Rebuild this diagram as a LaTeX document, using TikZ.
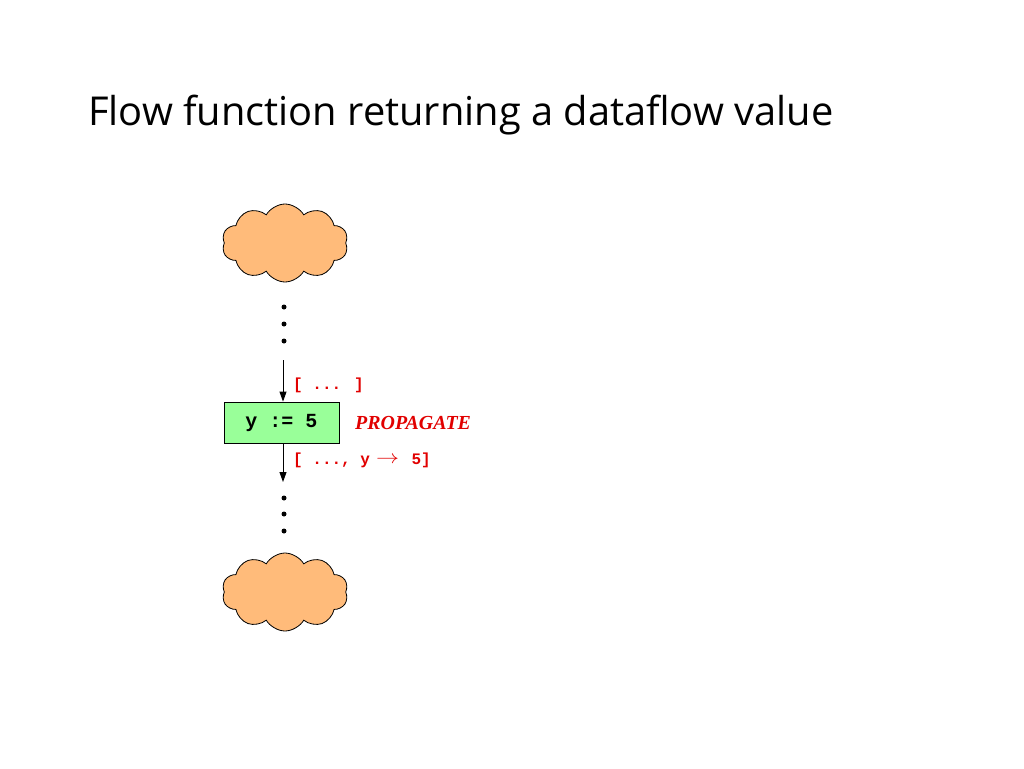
\documentclass[tikz,border=0pt]{standalone}
\usepackage{fontspec}
\usepackage{graphicx}
\setmainfont{Liberation Serif}
\newfontfamily\titlefont{Open Sans}
\newfontfamily\codefont{Liberation Mono}
\usetikzlibrary{shapes.symbols,arrows.meta}
\definecolor{cloudfill}{RGB}{255,187,122}
\definecolor{boxfill}{RGB}{153,255,153}
\definecolor{lblred}{RGB}{225,0,0}
\begin{document}
\begin{tikzpicture}[x=1pt,y=-1pt,
  cloudnode/.style={cloud, cloud puffs=10, cloud puff arc=120, aspect=1.7, draw=black, line width=0.8pt, fill=cloudfill, minimum width=126pt, minimum height=78pt, inner sep=0pt},
  dotnode/.style={circle, fill=black, inner sep=0pt, minimum size=5pt},
  stmtbox/.style={draw=black, line width=0.8pt, fill=boxfill, minimum width=115pt, minimum height=41pt, inner sep=0pt, font=\codefont\bfseries\fontsize{20}{22}\selectfont},
  flowarrow/.style={-{Triangle[length=10pt,width=7pt]}, line width=0.9pt},
  codelbl/.style={text=lblred, font=\codefont\bfseries\fontsize{16}{18}\selectfont, anchor=west, inner sep=0pt}
]
\useasboundingbox (0,0) rectangle (1024,768);
\node[anchor=base west, inner sep=0pt, font=\titlefont\fontsize{39.8}{46}\selectfont] (title) at (88,125) {Flow function returning a dataflow value};
\node[cloudnode] (cloudtop) at (285,243) {};
\node[dotnode] (d1) at (284,307) {};
\node[dotnode] (d2) at (284,324) {};
\node[dotnode] (d3) at (284,341) {};
\coordinate (astart) at (283,360);
\node[stmtbox] (stmt) at (281.5,422.5) {y := 5};
\coordinate (aend) at (283,482);
\draw[flowarrow] (astart) -- (stmt.north -| astart);
\draw[flowarrow] (stmt.south -| aend) -- (aend);
\node[codelbl] (inlbl) at (293,385) {[ ... ]};
\node[codelbl] (outlbl) at (293,460) {[ ..., y\hspace{6pt}\raisebox{1pt}{\resizebox{23pt}{7pt}{$\rightarrow$}}\hspace{3pt} 5]};
\node[anchor=west, inner sep=0pt, text=lblred, font=\bfseries\itshape\fontsize{19.9}{22}\selectfont] (prop) at (355,423) {PROPAGATE};
\node[dotnode] (d4) at (284,498) {};
\node[dotnode] (d5) at (284,514) {};
\node[dotnode] (d6) at (284,531) {};
\node[cloudnode] (cloudbot) at (285,592) {};
\end{tikzpicture}
\end{document}
